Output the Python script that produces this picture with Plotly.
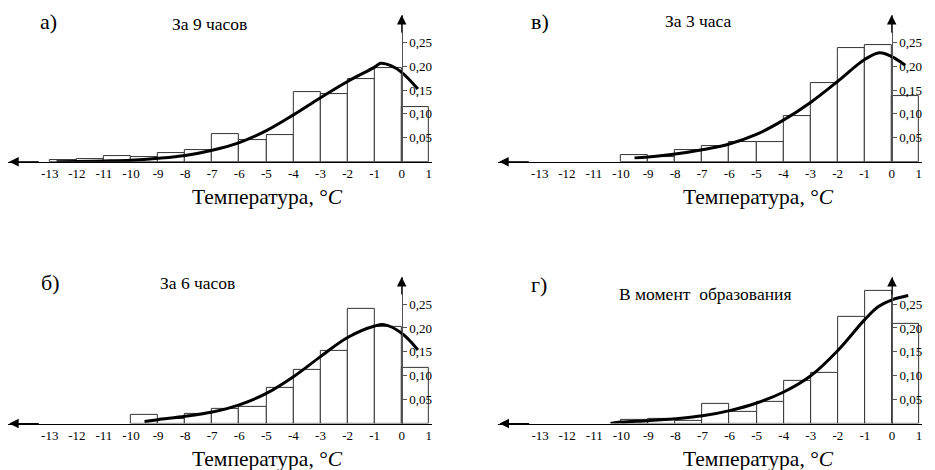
import plotly.graph_objects as go

# ---------------- data ----------------
bin_left = list(range(-13, 1))          # bins [k, k+1], k = -13 .. 0
x_ticks = list(range(-13, 2))
x_tick_labels = [str(v) for v in x_ticks]
y_ticks = [0.05, 0.10, 0.15, 0.20, 0.25]
y_tick_labels = ["0,05", "0,10", "0,15", "0,20", "0,25"]

# relative frequencies per bin (-13..-12, ..., 0..1); None = no bar
freq_a = [0.003, 0.005, 0.012, 0.010, 0.018, 0.024, 0.057, 0.045, 0.055, 0.145, 0.141, 0.173, 0.196, 0.115]
freq_v = [None, None, None, 0.013, 0.010, 0.024, 0.032, 0.042, 0.042, 0.095, 0.164, 0.238, 0.245, 0.137]
freq_b = [None, None, None, 0.019, 0.010, 0.021, 0.030, 0.034, 0.074, 0.112, 0.152, 0.241, 0.202, 0.116]
freq_g = [None, None, None, 0.008, 0.010, 0.005, 0.042, 0.025, 0.046, 0.090, 0.105, 0.224, 0.278, 0.208]

# fitted density curves
curve_a_x = [-12.75, -12, -11, -10, -9, -8, -7, -6, -5, -4, -3, -2, -1, -0.78, -0.4, 0, 0.6]
curve_a_y = [0.0, 0.0005, 0.0015, 0.003, 0.007, 0.013, 0.024, 0.040, 0.065, 0.098, 0.134, 0.168, 0.198, 0.206, 0.201, 0.187, 0.152]
curve_v_x = [-9.5, -9, -8, -7, -6, -5, -4, -3, -2, -1, -0.45, 0, 0.5]
curve_v_y = [0.008, 0.010, 0.016, 0.025, 0.037, 0.057, 0.087, 0.124, 0.168, 0.214, 0.228, 0.220, 0.202]
curve_b_x = [-9.5, -9, -8, -7, -6, -5, -4, -3, -2, -1, -0.65, 0, 0.6]
curve_b_y = [0.004, 0.008, 0.015, 0.024, 0.039, 0.063, 0.098, 0.140, 0.180, 0.204, 0.207, 0.189, 0.154]
curve_g_x = [-10.4, -10, -9, -8, -7, -6, -5, -4, -3, -2, -1, -0.5, 0, 0.6]
curve_g_y = [0.0, 0.003, 0.006, 0.010, 0.016, 0.027, 0.043, 0.066, 0.100, 0.153, 0.218, 0.245, 0.259, 0.268]

panel_letters = ["а)", "в)", "б)", "г)"]
panel_titles = ["За 9 часов", "За 3 часа", "За 6 часов", "В момент  образования"]
axis_title = "Температура, °<i>C</i>"

# ---------------- layout geometry (pixels) ----------------
W, H = 935, 470
SX, SY = 27.07, 477.6          # px per unit
XMIN, XMAX, YMAX = -14.55, 1.12, 0.307
FONT = "Liberation Serif"

panels = [
    dict(x0=401.7, base=161.7, freq=freq_a, cx=curve_a_x, cy=curve_a_y,
         lp=(48, 21), tp=(209, 24), ap=(267, 197)),
    dict(x0=891.7, base=161.7, freq=freq_v, cx=curve_v_x, cy=curve_v_y,
         lp=(540, 22), tp=(698, 21), ap=(758, 197)),
    dict(x0=401.7, base=423.5, freq=freq_b, cx=curve_b_x, cy=curve_b_y,
         lp=(50, 282), tp=(197, 283), ap=(267, 459)),
    dict(x0=892.0, base=423.5, freq=freq_g, cx=curve_g_x, cy=curve_g_y,
         lp=(539, 284), tp=(705, 294), ap=(758, 459)),
]

fig = go.Figure()
annotations = []
centers = [k + 0.5 for k in bin_left]

for i, p in enumerate(panels):
    n = i + 1
    xa = "x" if n == 1 else f"x{n}"
    ya = "y" if n == 1 else f"y{n}"
    xkey = "xaxis" if n == 1 else f"xaxis{n}"
    ykey = "yaxis" if n == 1 else f"yaxis{n}"

    fig.add_trace(go.Bar(
        x=centers, y=p["freq"], width=1.0, xaxis=xa, yaxis=ya,
        marker=dict(color="white", line=dict(color="#333333", width=1)),
        showlegend=False, hoverinfo="skip"))
    fig.add_trace(go.Scatter(
        x=p["cx"], y=p["cy"], mode="lines", xaxis=xa, yaxis=ya,
        line=dict(color="black", width=3, shape="spline", smoothing=1.0),
        showlegend=False, hoverinfo="skip"))

    xd = [(p["x0"] + XMIN * SX) / W, (p["x0"] + XMAX * SX) / W]
    yd = [1 - p["base"] / H, 1 - (p["base"] - YMAX * SY) / H]

    fig.update_layout({
        xkey: dict(domain=xd, range=[XMIN, XMAX], anchor=ya,
                   showgrid=False, zeroline=False, showline=True,
                   linecolor="black", linewidth=1, ticks="",
                   tickvals=x_ticks, ticktext=x_tick_labels,
                   tickfont=dict(family=FONT, size=13, color="black")),
        ykey: dict(domain=yd, range=[0, YMAX], anchor="free",
                   position=p["x0"] / W, side="right",
                   showgrid=False, zeroline=False, showline=True,
                   linecolor="#555555", linewidth=1, ticks="outside",
                   ticklen=4, tickcolor="#555555",
                   tickvals=y_ticks, ticktext=y_tick_labels,
                   tickfont=dict(family=FONT, size=13, color="black")),
    })

    # axis arrows
    annotations.append(dict(x=XMIN + 0.05, y=0, xref=xa, yref=ya,
                            ax=XMIN + 1.2, ay=0, axref=xa, ayref=ya,
                            text="", showarrow=True, arrowhead=2,
                            arrowsize=1.9, arrowwidth=1, arrowcolor="black"))
    annotations.append(dict(x=0, y=YMAX, xref=xa, yref=ya,
                            ax=0, ay=YMAX - 0.04, axref=xa, ayref=ya,
                            text="", showarrow=True, arrowhead=2,
                            arrowsize=1.9, arrowwidth=1, arrowcolor="black"))

    # texts
    annotations.append(dict(x=p["lp"][0] / W, y=1 - p["lp"][1] / H,
                            xref="paper", yref="paper", text=panel_letters[i],
                            showarrow=False, xanchor="center", yanchor="middle",
                            font=dict(family=FONT, size=22, color="black")))
    annotations.append(dict(x=p["tp"][0] / W, y=1 - p["tp"][1] / H,
                            xref="paper", yref="paper", text=panel_titles[i],
                            showarrow=False, xanchor="center", yanchor="middle",
                            font=dict(family=FONT, size=17.5, color="black")))
    annotations.append(dict(x=p["ap"][0] / W, y=1 - p["ap"][1] / H,
                            xref="paper", yref="paper", text=axis_title,
                            showarrow=False, xanchor="center", yanchor="middle",
                            font=dict(family=FONT, size=21.5, color="black")))

fig.update_layout(
    width=W, height=H, margin=dict(l=0, r=0, t=0, b=0),
    paper_bgcolor="white", plot_bgcolor="rgba(0,0,0,0)",
    bargap=0, barmode="overlay", annotations=annotations,
    font=dict(family=FONT, color="black"),
)

fig.write_html("out.html")
